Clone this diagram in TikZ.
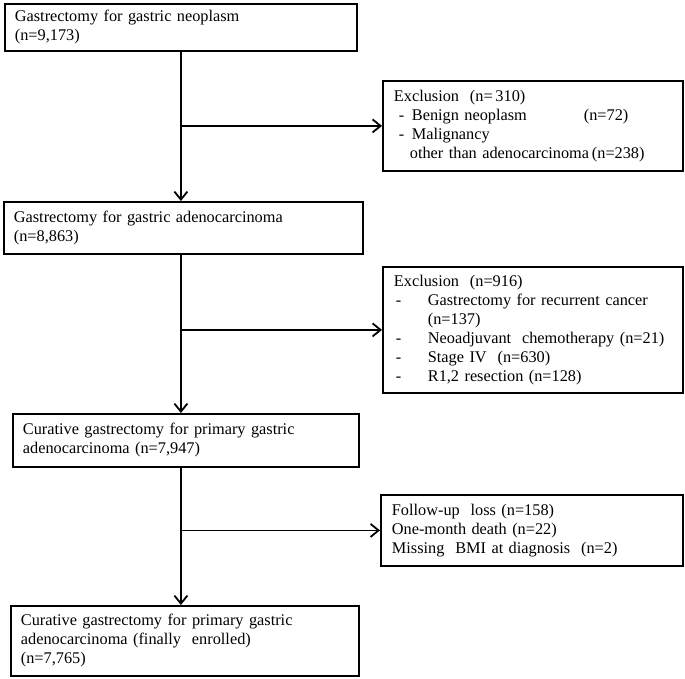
\documentclass[tikz,border=0pt]{standalone}
\usepackage{fontspec}
\setmainfont{Liberation Serif}
\usepackage{tikz}
\usetikzlibrary{arrows.meta}
\tikzset{flowbox/.style={draw, line width=1.8pt, anchor=north west, align=left,
    inner xsep=10pt, inner ysep=0pt},
  flowarr/.style={line width=1.8pt,
    -{Straight Barb[length=8pt,width=13pt,line width=1.8pt]}}}
\newcommand{\lcol}[2]{\makebox[#1][l]{#2}}

\begin{document}
\begin{tikzpicture}[x=1pt,y=-1pt,every node/.style={font=\fontsize{16.3pt}{19pt}\selectfont}]
  \useasboundingbox (0,0) rectangle (685,678);
  \node[flowbox, text width=332pt, minimum height=47pt] (neo) at (4,3)
    {Gastrectomy for gastric neoplasm\\(n=9,173)};
  \node[flowbox, text width=339pt, minimum height=52pt] (adeno) at (3,201)
    {Gastrectomy for gastric adenocarcinoma\\(n=8,863)};
  \node[flowbox, text width=326pt, minimum height=53pt] (cure) at (12,413)
    {Curative gastrectomy for primary gastric\\adenocarcinoma (n=7,947)};
  \node[flowbox, text width=328pt, minimum height=70pt] (final) at (10,605)
    {Curative gastrectomy for primary gastric\\adenocarcinoma (finally\ \ enrolled)\\(n=7,765)};
  \node[flowbox, inner xsep=11pt, text width=278pt, minimum height=90pt] (excla) at (382,80)
    {Exclusion\ \ (n=\,310)\\
     \hspace*{5pt}\lcol{13pt}{-}\lcol{172pt}{Benign neoplasm}(n=72)\\
     \hspace*{5pt}\lcol{13pt}{-}Malignancy\\
     \hspace*{16pt}\lcol{182pt}{other than adenocarcinoma}(n=238)};
  \node[flowbox, inner xsep=11pt, text width=278pt, minimum height=126pt] (exclb) at (382,266)
    {Exclusion\ \ (n=916)\\
     \hspace*{2pt}\lcol{32pt}{-}Gastrectomy for recurrent cancer\\
     \hspace*{34pt}(n=137)\\
     \hspace*{2pt}\lcol{32pt}{-}Neoadjuvant\ \ chemotherapy (n=21)\\
     \hspace*{2pt}\lcol{32pt}{-}Stage IV\ \ (n=630)\\
     \hspace*{2pt}\lcol{32pt}{-}R1,2 resection (n=128)};
  \node[flowbox, inner xsep=11pt, text width=280pt, minimum height=71pt] (exclc) at (380,494)
    {Follow-up\ \ loss (n=158)\\
     One-month death (n=22)\\
     Missing\ \ BMI at diagnosis\ \ (n=2)};
  \draw[flowarr] (neo.south) -- (neo.south |- adeno.north);
  \draw[flowarr] (adeno.south -| neo.south) -- (neo.south |- cure.north);
  \draw[flowarr] (cure.south -| neo.south) -- (neo.south |- final.north);
  \draw[flowarr] (neo.south |- excla.west) -- (excla.west);
  \draw[flowarr] (neo.south |- exclb.west) -- (exclb.west);
  \draw[flowarr] (neo.south |- exclc.west) -- (exclc.west);
\end{tikzpicture}
\end{document}
